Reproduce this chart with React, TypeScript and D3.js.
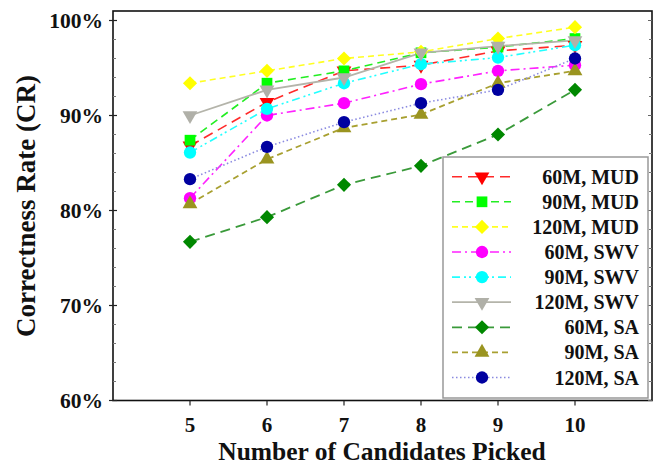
import React from "react";
import * as d3 from "d3";

const candidates = [5, 6, 7, 8, 9, 10];
const yTicks = [60, 70, 80, 90, 100];
const xTicks = [5, 6, 7, 8, 9, 10];

const seriesNames = [
  "60M, MUD", "90M, MUD", "120M, MUD",
  "60M, SWV", "90M, SWV", "120M, SWV",
  "60M, SA", "90M, SA", "120M, SA",
];

const mud60 = [86.8, 91.4, 94.7, 95.3, 96.8, 97.4];
const mud90 = [87.4, 93.4, 94.7, 96.6, 97.2, 98.1];
const mud120 = [93.4, 94.7, 96.0, 96.7, 98.1, 99.3];
const swv60 = [81.3, 90.0, 91.3, 93.3, 94.7, 95.3];
const swv90 = [86.1, 90.7, 93.4, 95.4, 96.1, 97.4];
const swv120 = [90.0, 92.7, 94.0, 96.6, 97.3, 97.9];
const sa60 = [76.7, 79.3, 82.7, 84.7, 88.0, 92.7];
const sa90 = [80.7, 85.4, 88.7, 90.1, 93.4, 94.7];
const sa120 = [83.3, 86.7, 89.3, 91.3, 92.7, 96.0];

const seriesValues = [mud60, mud90, mud120, swv60, swv90, swv120, sa60, sa90, sa120];

type Style = { line: string; marker: string; dash: string; shape: string; width: number };
const styles: Style[] = [
  { line: "#ff2a2a", marker: "#ff0000", dash: "10,6", shape: "triDown", width: 1.6 },
  { line: "#22ee22", marker: "#00ff00", dash: "8,5", shape: "square", width: 1.6 },
  { line: "#ffff22", marker: "#ffff00", dash: "6,4", shape: "diamond", width: 1.6 },
  { line: "#ff22ff", marker: "#ff00ff", dash: "9,4,2,4", shape: "circle", width: 1.6 },
  { line: "#22ffff", marker: "#00ffff", dash: "8,4,2,3,2,4", shape: "circle", width: 1.6 },
  { line: "#b4b4aa", marker: "#b0b0a8", dash: "", shape: "triDown", width: 1.8 },
  { line: "#3a9a3a", marker: "#008800", dash: "10,6", shape: "diamond", width: 1.8 },
  { line: "#a8a030", marker: "#9a9420", dash: "6,4", shape: "triUp", width: 1.8 },
  { line: "#8a8ae0", marker: "#0000a0", dash: "1.5,2.5", shape: "circle", width: 1.6 },
];

const W = 656;
const H = 465;
const left = 113;
const right = 652;
const top = 11;
const bottom = 400.5;

const x = d3.scaleLinear().domain([4, 11]).range([left, right]);
const y = d3.scaleLinear().domain([60, 101]).range([bottom, top]);

function symbolPath(shape: string): { d: string; rot: number } {
  switch (shape) {
    case "triDown":
      return { d: d3.symbol(d3.symbolTriangle, 95)()!, rot: 180 };
    case "triUp":
      return { d: d3.symbol(d3.symbolTriangle, 95)()!, rot: 0 };
    case "square":
      return { d: d3.symbol(d3.symbolSquare, 115)()!, rot: 0 };
    case "diamond":
      return { d: d3.symbol(d3.symbolSquare, 100)()!, rot: 45 };
    default:
      return { d: d3.symbol(d3.symbolCircle, 120)()!, rot: 0 };
  }
}

const FONT = "'Liberation Serif', 'Times New Roman', serif";

export default function App() {
  const line = d3
    .line<number>()
    .x((_, i) => x(candidates[i]))
    .y((v) => y(v));

  const minorTicks = d3.range(60, 101, 2).filter((v) => v % 10 !== 0);

  const legX0 = 443;
  const legY0 = 157;
  const legW = 205;
  const legH = 241;
  const rowY = (i: number) => 176.7 + i * 25.1;

  return (
    <svg
      width={W}
      height={H}
      style={{ position: "absolute", left: 0, top: 0, background: "#fff" }}
      fontFamily={FONT}
    >
      <rect x={0} y={0} width={W} height={H} fill="#fff" />
      {/* series */}
      {seriesValues.map((vals, si) => (
        <path
          key={"l" + si}
          d={line(vals)!}
          fill="none"
          stroke={styles[si].line}
          strokeWidth={styles[si].width}
          strokeDasharray={styles[si].dash || undefined}
        />
      ))}
      {seriesValues.map((vals, si) => {
        const s = symbolPath(styles[si].shape);
        return (
          <g key={"m" + si}>
            {vals.map((v, i) => (
              <path
                key={i}
                d={s.d}
                transform={`translate(${x(candidates[i])},${y(v)}) rotate(${s.rot})`}
                fill={styles[si].marker}
              />
            ))}
          </g>
        );
      })}

      {/* frame */}
      <rect x={left} y={top} width={right - left} height={bottom - top} fill="none" stroke="#111" strokeWidth={1.6} />
      {/* y ticks */}
      {yTicks.map((t) => (
        <g key={"yt" + t}>
          <line x1={left - 4} x2={left + 4} y1={y(t)} y2={y(t)} stroke="#222" strokeWidth={1.2} />
          <line x1={right - 4} x2={right} y1={y(t)} y2={y(t)} stroke="#666" strokeWidth={1} />
          <text x={103} y={y(t) + 7.8} textAnchor="end" fontSize={21.5} fontWeight="bold" fill="#111">
            {t}%
          </text>
        </g>
      ))}
      {minorTicks.map((t) => (
        <g key={"ym" + t}>
          <line x1={left} x2={left + 3} y1={y(t)} y2={y(t)} stroke="#777" strokeWidth={1} />
          <line x1={right - 3} x2={right} y1={y(t)} y2={y(t)} stroke="#777" strokeWidth={1} />
        </g>
      ))}
      {/* x ticks */}
      {xTicks.map((t) => (
        <g key={"xt" + t}>
          <line x1={x(t)} x2={x(t)} y1={bottom} y2={bottom + 5} stroke="#222" strokeWidth={1.2} />
          <text x={x(t)} y={431.5} textAnchor="middle" fontSize={21} fontWeight="bold" fill="#111">
            {t}
          </text>
        </g>
      ))}

      {/* axis titles */}
      <text x={382} y={460} textAnchor="middle" fontSize={25.5} fontWeight="bold" fill="#111">
        Number of Candidates Picked
      </text>
      <text
        transform={`translate(35,206) rotate(-90)`}
        textAnchor="middle"
        fontSize={27}
        fontWeight="bold"
        fill="#111"
      >
        Correctness Rate (CR)
      </text>

      {/* legend */}
      <rect x={legX0} y={legY0} width={legW} height={legH} fill="#fff" stroke="#999" strokeWidth={1.5} />
      {seriesNames.map((name, i) => {
        const s = symbolPath(styles[i].shape);
        const cy = rowY(i);
        return (
          <g key={"lg" + i}>
            <line
              x1={452}
              x2={511}
              y1={cy}
              y2={cy}
              stroke={styles[i].line}
              strokeWidth={styles[i].width}
              strokeDasharray={styles[i].dash || undefined}
            />
            <path d={s.d} transform={`translate(482,${cy}) rotate(${s.rot})`} fill={styles[i].marker} />
            <text x={639} y={cy + 7} textAnchor="end" fontSize={20} fontWeight="bold" fill="#111">
              {name}
            </text>
          </g>
        );
      })}
    </svg>
  );
}
